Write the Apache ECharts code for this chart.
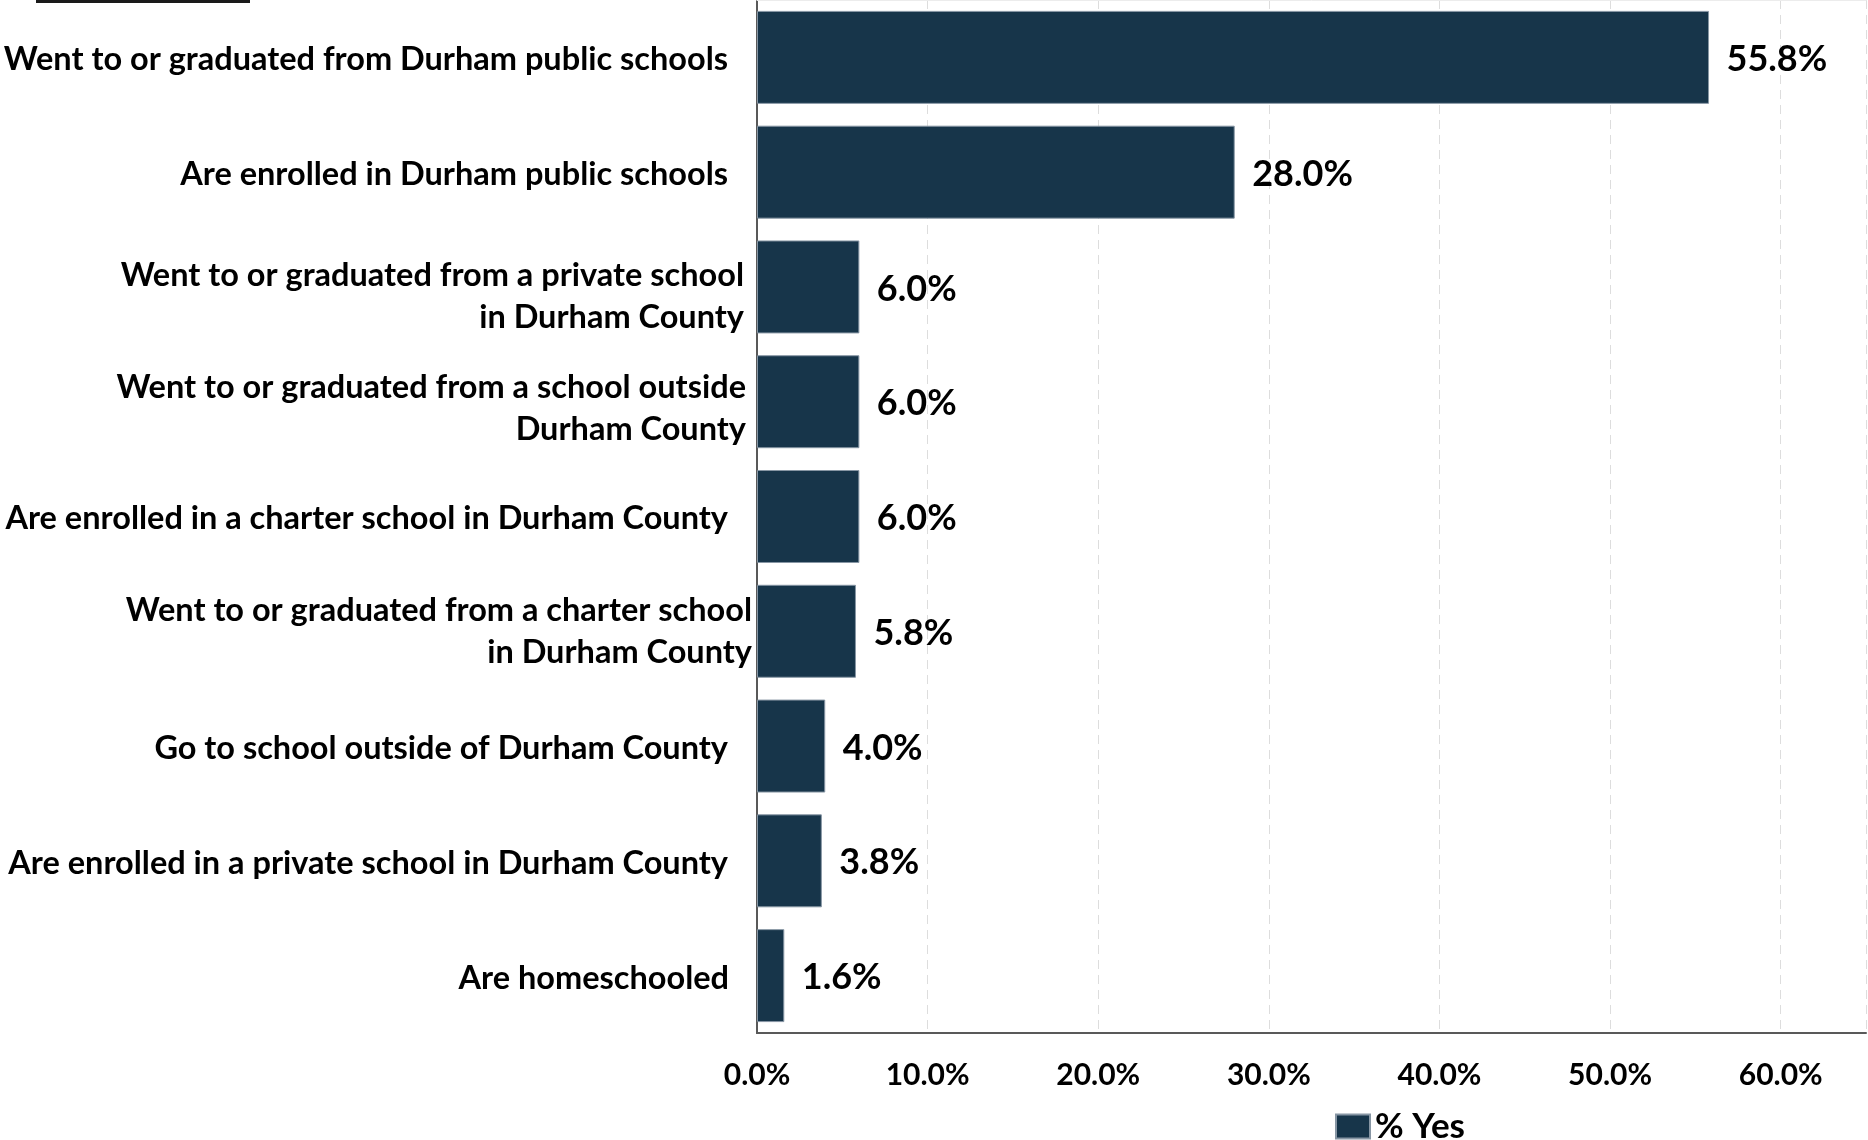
<!DOCTYPE html>
<html>
<head>
<meta charset="utf-8">
<title>Durham school connections</title>
<script src="https://cdn.jsdelivr.net/npm/echarts@6/dist/echarts.min.js"></script>
<style>
  html, body { margin: 0; padding: 0; background: #ffffff; }
  #chart { width: 1868px; height: 1140px; }
</style>
</head>
<body>
<div id="chart"></div>
<script>
// Survey responses, top to bottom
const categories = [
  'Went to or graduated from Durham public schools',
  'Are enrolled in Durham public schools',
  'Went to or graduated from a private school\nin Durham County',
  'Went to or graduated from a school outside\nDurham County',
  'Are enrolled in a charter school in Durham County',
  'Went to or graduated from a charter school\nin Durham County',
  'Go to school outside of Durham County',
  'Are enrolled in a private school in Durham County',
  'Are homeschooled'
];
const percentYes = [55.8, 28.0, 6.0, 6.0, 6.0, 5.8, 4.0, 3.8, 1.6];
const seriesName = '% Yes';
const xTickValues = [0, 10, 20, 30, 40, 50, 60];

const FONT = 'Lato';
const BAR = '#17354a';
const LABEL_SIZE = 32.5;
const LABEL_LINE = 42;

// extra space between each category label and the axis, and a downward nudge
const labelInset = [24, 24, 8, 6, 24, 0, 24, 24, 23];
const labelDrop = [5, 5, 19, 14, 5, 0, 5, 5, 5];

// one rich style per label: a spacer line (pushes the block down) and the text lines
const labelRich = {};
categories.forEach((_, i) => {
  labelRich['s' + i] = { fontSize: 1, lineHeight: labelDrop[i], padding: [0, 0, 0, 0] };
  labelRich['t' + i] = {
    fontFamily: FONT, fontWeight: 'bold', fontSize: LABEL_SIZE, lineHeight: LABEL_LINE,
    color: '#000000', align: 'right', padding: [0, labelInset[i], 0, 0]
  };
});

function categoryLabel(value, index) {
  const lines = String(value).split('\n').map(line => '{t' + index + '|' + line + '}');
  if (labelDrop[index] > 0) lines.unshift('{s' + index + '|\u200b}');
  return lines.join('\n');
}

const chart = echarts.init(document.getElementById('chart'), null, { renderer: 'canvas' });

const option = {
  backgroundColor: '#ffffff',
  animation: false,
  textStyle: { fontFamily: FONT },
  grid: {
    left: 757, right: 2, top: 0, bottom: 107,
    containLabel: false,
    outerBoundsMode: 'none'
  },
  legend: {
    data: [seriesName],
    left: 1330,
    top: 1104,
    itemWidth: 34,
    itemHeight: 24,
    icon: 'rect',
    textStyle: { fontFamily: FONT, fontWeight: 'bold', fontSize: 35, color: '#000000' }
  },
  xAxis: [{
    type: 'value',
    min: 0,
    max: 65,
    interval: 10,
    axisLine: { show: true, lineStyle: { color: '#595959', width: 2 } },
    axisTick: { show: false },
    splitLine: { show: true, lineStyle: { color: '#dddddd', width: 1, type: [9, 6] } },
    axisLabel: {
      margin: 27,
      fontFamily: FONT,
      fontWeight: 'bold',
      fontSize: 30,
      color: '#000000',
      formatter: v => (xTickValues.indexOf(v) >= 0 ? v.toFixed(1) + '%' : '')
    }
  }, {
    type: 'value',
    position: 'top',
    min: 0,
    max: 65,
    axisLine: { show: true, lineStyle: { color: '#ececec', width: 1 } },
    axisTick: { show: false },
    axisLabel: { show: false },
    splitLine: { show: false }
  }],
  yAxis: [{
    type: 'category',
    inverse: true,
    data: categories,
    axisLine: { show: true, lineStyle: { color: '#000000', width: 1.5 } },
    axisTick: { show: false },
    splitLine: { show: false },
    axisLabel: {
      margin: 5,
      fontFamily: FONT,
      fontWeight: 'bold',
      fontSize: LABEL_SIZE,
      lineHeight: LABEL_LINE,
      color: '#000000',
      align: 'right',
      formatter: categoryLabel,
      rich: labelRich
    }
  }, {
    type: 'category',
    position: 'right',
    inverse: true,
    data: categories,
    axisLine: { show: true, lineStyle: { color: '#595959', width: 2 } },
    axisTick: { show: false },
    axisLabel: { show: false },
    splitLine: { show: false }
  }],
  series: [{
    name: seriesName,
    type: 'bar',
    xAxisIndex: 0,
    yAxisIndex: 0,
    data: percentYes,
    barWidth: '81%',
    itemStyle: { color: BAR, borderColor: '#8796a4', borderWidth: 1 },
    label: {
      show: true,
      position: 'right',
      distance: 17.5,
      offset: [0, 2],
      fontFamily: FONT,
      fontWeight: 'bold',
      fontSize: 36,
      color: '#000000',
      formatter: p => p.value.toFixed(1) + '%'
    }
  }],
  graphic: [{
    type: 'rect',
    left: 36,
    top: 0,
    shape: { width: 214, height: 3 },
    style: { fill: '#1a1a1a' }
  }]
};

chart.setOption(option);
</script>
</body>
</html>
